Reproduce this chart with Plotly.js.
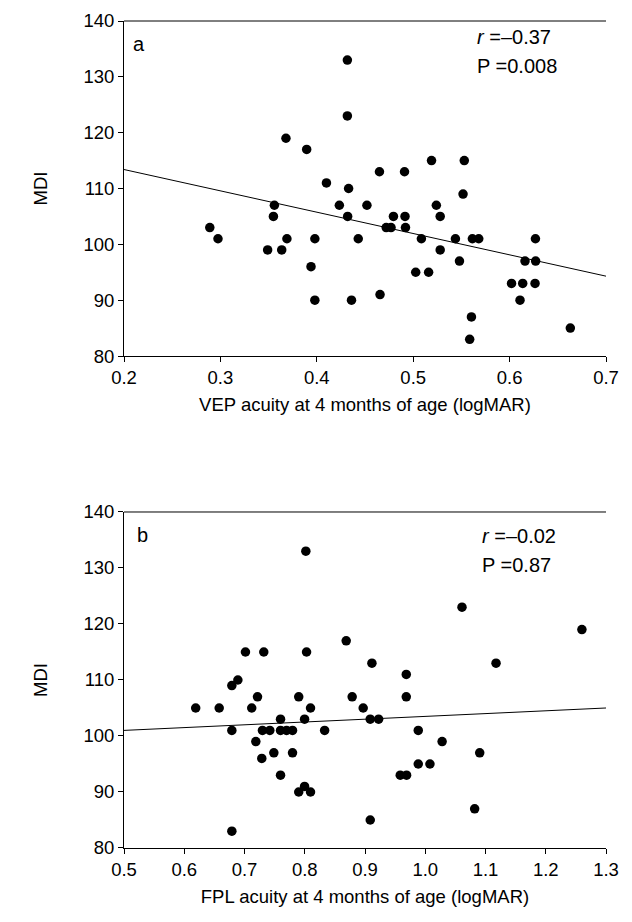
<!DOCTYPE html>
<html>
<head>
<meta charset="utf-8">
<script src="https://cdn.plot.ly/plotly-3.0.1.min.js"></script>
<style>html,body{margin:0;padding:0;background:#fff;}#chart{width:632px;height:922px;}</style>
</head>
<body>
<div id="chart"></div>
<script>
// Panel a: VEP acuity (logMAR) vs MDI
const vepX = [0.289,0.2975,0.349,0.355,0.356,0.3636,0.368,0.369,0.3895,0.394,0.398,0.398,0.41,0.4234,0.432,0.4317,0.4317,0.433,0.436,0.443,0.452,0.465,0.4656,0.472,0.477,0.4795,0.491,0.4915,0.492,0.5026,0.5085,0.516,0.519,0.524,0.528,0.528,0.5438,0.548,0.5517,0.553,0.5586,0.5604,0.5614,0.568,0.602,0.6108,0.6136,0.616,0.6264,0.627,0.6268,0.663];
const vepMDI = [103,101,99,105,107,99,119,101,117,96,101,90,111,107,105,133,123,110,90,101,107,113,91,103,103,105,113,105,103,95,101,95,115,107,105,99,101,97,109,115,83,87,101,101,93,90,93,97,93,97,101,85];
const vepFitX = [0.2, 0.7];
const vepFitY = [113.4, 94.3];

// Panel b: FPL acuity (logMAR) vs MDI
const fplX = [0.619,0.658,0.679,0.679,0.679,0.689,0.7016,0.712,0.7188,0.7216,0.7287,0.7298,0.732,0.742,0.7487,0.7598,0.7598,0.7598,0.7698,0.7797,0.7797,0.79,0.79,0.7997,0.7997,0.8018,0.803,0.8096,0.8096,0.833,0.8688,0.8787,0.897,0.9087,0.9087,0.9115,0.9226,0.9585,0.9685,0.9685,0.969,0.9884,0.9884,1.0078,1.028,1.061,1.082,1.0904,1.1175,1.26];
const fplMDI = [105,105,109,101,83,110,115,105,99,107,96,101,115,101,97,103,101,93,101,101,97,107,90,103,91,133,115,105,90,101,117,107,105,103,85,113,103,93,111,107,93,101,95,95,99,123,87,97,113,119];
const fplFitX = [0.5, 1.3];
const fplFitY = [101.0, 105.0];

const yTicks = [80, 90, 100, 110, 120, 130, 140];
const panelLabels = ['a', 'b'];
const statsR = ['<i>r</i> =\u20130.37', '<i>r</i> =\u20130.02'];
const statsP = ['P =0.008', 'P =0.87'];
const xTitles = ['VEP acuity at 4 months of age (logMAR)', 'FPL acuity at 4 months of age (logMAR)'];

const FONT = 'Liberation Sans, Arial, sans-serif';
const TICK = 18.5;
const marker = {color: '#000', size: 9.5, symbol: 'circle'};
const lineStyle = {color: '#000', width: 1};

const traces = [
  {x: vepFitX, y: vepFitY, mode: 'lines', line: lineStyle, xaxis: 'x', yaxis: 'y', hoverinfo: 'skip'},
  {x: vepX, y: vepMDI, mode: 'markers', marker: marker, xaxis: 'x', yaxis: 'y'},
  {x: fplFitX, y: fplFitY, mode: 'lines', line: lineStyle, xaxis: 'x2', yaxis: 'y2', hoverinfo: 'skip'},
  {x: fplX, y: fplMDI, mode: 'markers', marker: marker, xaxis: 'x2', yaxis: 'y2'}
];

function xAxis(range, anchor, title) {
  return {
    range: range, dtick: 0.1, tick0: 0, tickformat: '.1f', anchor: anchor,
    showgrid: false, zeroline: false, showline: true, linecolor: '#000', linewidth: 1,
    ticks: 'outside', ticklen: 5, tickcolor: '#000', tickfont: {size: TICK, color: '#000', family: FONT},
    title: {text: title, font: {size: TICK, color: '#000', family: FONT}, standoff: 10}
  };
}
function yAxis(domain, anchor) {
  return {
    range: [80, 140], tickvals: yTicks, domain: domain, anchor: anchor,
    showgrid: false, zeroline: false, showline: true, linecolor: '#000', linewidth: 1,
    ticks: 'outside', ticklen: 5, tickcolor: '#000', tickfont: {size: TICK, color: '#000', family: FONT},
    title: {text: 'MDI', font: {size: TICK, color: '#000', family: FONT}, standoff: 30}
  };
}

function ann(text, xref, yref, x, y, size) {
  return {text: text, xref: xref, yref: yref, x: x, y: y, xanchor: 'left', yanchor: 'middle',
          showarrow: false, font: {size: size, color: '#000', family: FONT}};
}

const layout = {
  width: 632, height: 922,
  margin: {l: 124, r: 26, t: 21, b: 74},
  paper_bgcolor: '#fff', plot_bgcolor: '#fff',
  showlegend: false,
  font: {family: FONT, color: '#000'},
  xaxis: xAxis([0.2, 0.7], 'y', xTitles[0]),
  yaxis: yAxis([0.5949, 1], 'x'),
  xaxis2: xAxis([0.5, 1.3], 'y2', xTitles[1]),
  yaxis2: yAxis([0, 0.4063], 'x2'),
  shapes: [
    {type: 'line', xref: 'x domain', yref: 'y domain', x0: 0, x1: 1, y0: 1, y1: 1, line: lineStyle},
    {type: 'line', xref: 'x2 domain', yref: 'y2 domain', x0: 0, x1: 1, y0: 1, y1: 1, line: lineStyle}
  ],
  annotations: [
    ann(panelLabels[0], 'x domain', 'y domain', 0.014, 0.93, 20),
    ann(statsR[0], 'x domain', 'y domain', 0.728, 0.952, 20),
    ann(statsP[0], 'x domain', 'y domain', 0.728, 0.867, 20),
    ann(panelLabels[1], 'x2 domain', 'y2 domain', 0.022, 0.932, 20),
    ann(statsR[1], 'x2 domain', 'y2 domain', 0.739, 0.929, 20),
    ann(statsP[1], 'x2 domain', 'y2 domain', 0.739, 0.842, 20)
  ]
};

Plotly.newPlot('chart', traces, layout, {staticPlot: true, displayModeBar: false});
</script>
</body>
</html>
